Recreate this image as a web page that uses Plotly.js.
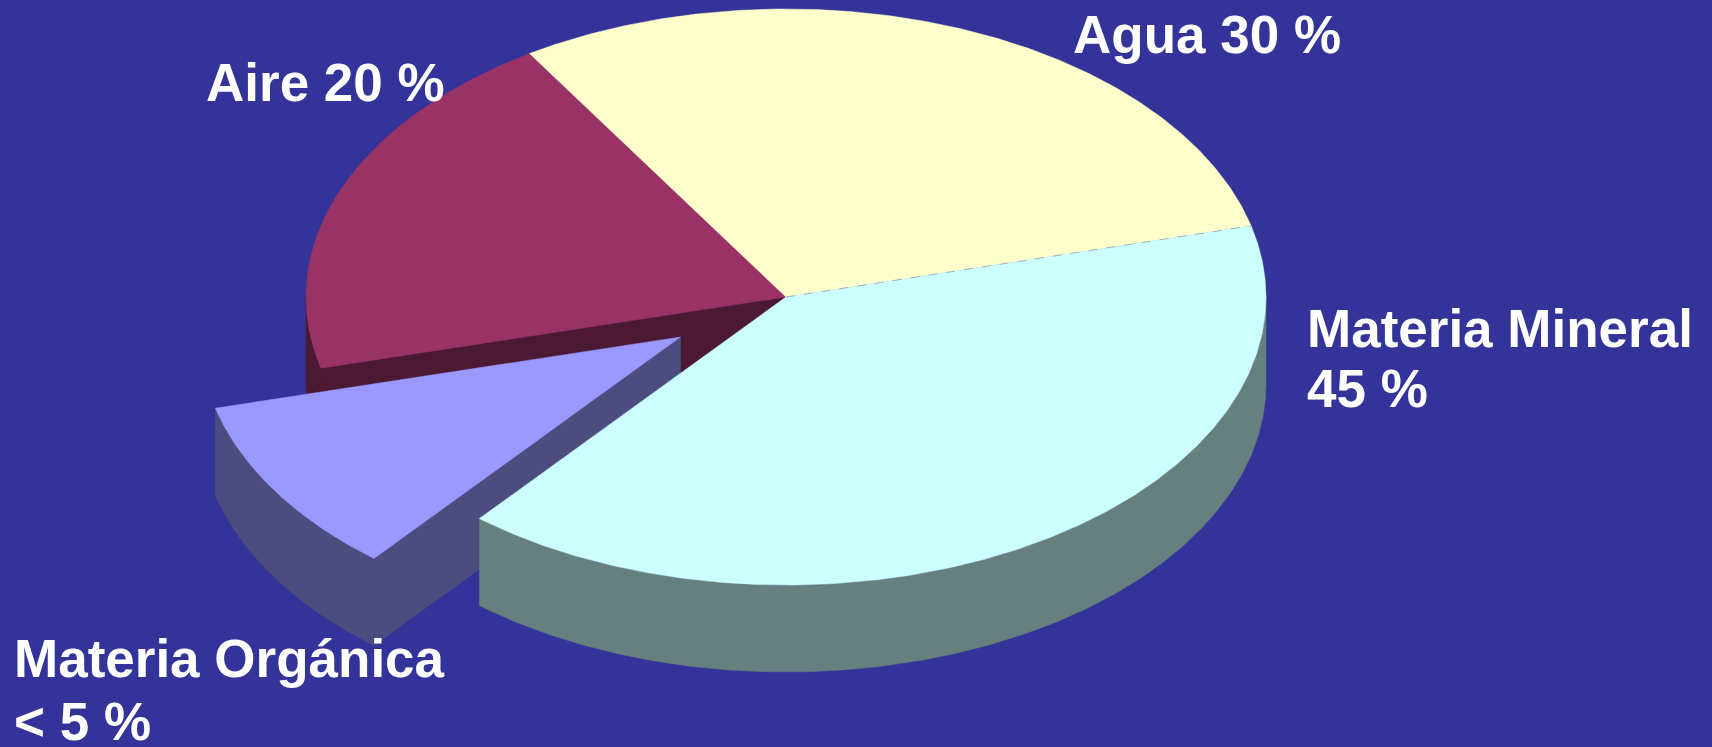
<!DOCTYPE html>
<html>
<head>
<meta charset="utf-8">
<script src="https://cdn.plot.ly/plotly-3.0.1.min.js"></script>
<style>
  html, body { margin: 0; padding: 0; background: #333399; overflow: hidden; }
  #chart { width: 1712px; height: 747px; }
</style>
</head>
<body>
<div id="chart"></div>
<script>
// ---- data ----
const sliceNames  = ["Agua", "Aire", "Materia Orgánica", "Materia Mineral"];
const sliceValues = [30, 20, 10, 40];          // drawn share of each wedge
const labelLines  = [["Agua 30 %"], ["Aire 20 %"], ["Materia Orgánica", "< 5 %"], ["Materia Mineral", "45 %"]];

// ---- styles ----
const topColors  = ["#FFFFCC", "#993366", "#9999FF", "#CCFFFF"];
const sideColors = ["#7F7F66", "#4C1933", "#4C4C7F", "#667F7F"];
const explodeFrac = [0, 0, 0.26, 0];
const startAngleDeg = 14.3;                     // counter-clockwise from 3 o'clock
const geom = { cx: 786, cy: 297, a: 480, b: 288, depth: 87 };
const labelPos = [
  [{x: 1071, y: 34}],
  [{x: 204, y: 82}],
  [{x: 12, y: 658}, {x: 12, y: 721}],
  [{x: 1305, y: 328}, {x: 1305, y: 388}]
];

const rad = d => d * Math.PI / 180;
const total = sliceValues.reduce((s, v) => s + v, 0);
const n = sliceValues.length;

// angles of each slice
const slices = [];
let acc = startAngleDeg;
sliceValues.forEach((v, i) => {
  const a0 = acc, a1 = acc + v / total * 360;
  acc = a1;
  const mid = rad((a0 + a1) / 2);
  const off = {
    x: explodeFrac[i] * geom.a * Math.cos(mid),
    y: -explodeFrac[i] * geom.b * Math.sin(mid)
  };
  slices.push({ i, a0, a1, off });
});

function rimPt(deg, off, dz) {
  return [geom.cx + off.x + geom.a * Math.cos(rad(deg)),
          geom.cy + off.y - geom.b * Math.sin(rad(deg)) + (dz || 0)];
}
function arc(d0, d1, off, dz) {
  const pts = [];
  const m = Math.max(2, Math.ceil(Math.abs(d1 - d0) / 0.5));
  for (let k = 0; k <= m; k++) pts.push(rimPt(d0 + (d1 - d0) * k / m, off, dz));
  return pts;
}
function poly(pts, color, name) {
  return {
    type: "scatter", mode: "lines", fill: "toself", fillcolor: color,
    x: pts.map(p => p[0]).concat([pts[0][0]]),
    y: pts.map(p => p[1]).concat([pts[0][1]]),
    line: { width: 0.5, color: color }, hoverinfo: "skip", name: name, showlegend: false
  };
}

const traces = [];
const drawOrder = [1, 0, 2, 3];
// side faces
drawOrder.forEach(idx => {
  const s = slices[idx];
  const c = [geom.cx + s.off.x, geom.cy + s.off.y];
  const D = geom.depth;
  const prev = (idx - 1 + n) % n, next = (idx + 1) % n;
  // radial end face (normal at a1+90) - only exposed if this or next wedge is pulled out
  if (Math.sin(rad(s.a1 + 90)) < 0 && (explodeFrac[idx] > 0 || explodeFrac[next] > 0)) {
    const r = rimPt(s.a1, s.off, 0), rb = rimPt(s.a1, s.off, D);
    traces.push(poly([c, r, rb, [c[0], c[1] + D]], sideColors[idx], sliceNames[idx]));
  }
  // radial start face (normal at a0-90)
  if (Math.sin(rad(s.a0 - 90)) < 0 && (explodeFrac[idx] > 0 || explodeFrac[prev] > 0)) {
    const r = rimPt(s.a0, s.off, 0), rb = rimPt(s.a0, s.off, D);
    traces.push(poly([c, r, rb, [c[0], c[1] + D]], sideColors[idx], sliceNames[idx]));
  }
  // outer curved side, front half only
  [[180, 360], [540, 720]].forEach(([f0, f1]) => {
    const d0 = Math.max(s.a0, f0), d1 = Math.min(s.a1, f1);
    if (d1 > d0) {
      const top = arc(d0, d1, s.off, 0);
      const bot = arc(d0, d1, s.off, D).reverse();
      traces.push(poly(top.concat(bot), sideColors[idx], sliceNames[idx]));
    }
  });
});
// top faces
drawOrder.forEach(idx => {
  const s = slices[idx];
  const c = [geom.cx + s.off.x, geom.cy + s.off.y];
  traces.push(poly([c].concat(arc(s.a0, s.a1, s.off, 0)), topColors[idx], sliceNames[idx]));
});
// thin dashed divider between Agua and Materia Mineral
{
  const s = slices[0];
  const r = rimPt(s.a0, s.off, 0);
  traces.push({ type: "scatter", mode: "lines", x: [geom.cx, r[0]], y: [geom.cy, r[1]],
    line: { color: "#9fb4c8", width: 1, dash: "dash" }, hoverinfo: "skip", showlegend: false });
}

const annotations = [];
labelLines.forEach((lines, i) => {
  lines.forEach((t, j) => {
    annotations.push({
      text: t, x: labelPos[i][j].x, y: labelPos[i][j].y, xref: "x", yref: "y",
      xanchor: "left", yanchor: "middle", showarrow: false,
      font: { family: "Arial, 'Liberation Sans', sans-serif", size: 53, color: "#FFFFFF", weight: "bold" }
    });
  });
});

const layout = {
  width: 1712, height: 747,
  margin: { l: 0, r: 0, t: 0, b: 0, pad: 0 },
  paper_bgcolor: "#333399", plot_bgcolor: "#333399",
  xaxis: { range: [0, 1712], visible: false, fixedrange: true },
  yaxis: { range: [747, 0], visible: false, fixedrange: true },
  showlegend: false,
  annotations: annotations
};

Plotly.newPlot("chart", traces, layout, { displayModeBar: false, staticPlot: true });
</script>
</body>
</html>
